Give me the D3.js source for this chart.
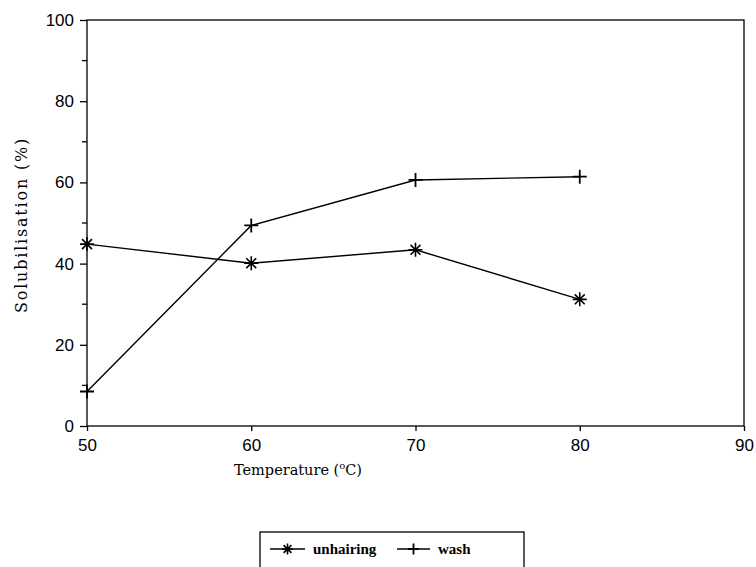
<!DOCTYPE html>
<html>
<head>
<meta charset="utf-8">
<script src="https://cdn.jsdelivr.net/npm/d3@7"></script>
<style>
  body { margin: 0; background: #fff; }
  .tick text { font-family: "Liberation Sans", Arial, sans-serif; }
</style>
</head>
<body>
<div id="chart"></div>
<script>
var temps = [50, 60, 70, 80]
var unhairing = [44.8, 40.1, 43.4, 31.2]
var wash = [8.5, 49.4, 60.6, 61.4]
var xTicks = [50, 60, 70, 80, 90]
var yTicks = [0, 20, 40, 60, 80, 100]

var width = 756
var height = 567
var margin = { left: 87, top: 20, right: 12, bottom: 141 }
var serif = '"DejaVu Serif", Georgia, serif'

var svg = d3.select('#chart').append('svg')
  .attr('width', width)
  .attr('height', height)

var x = d3.scaleLinear().domain([50, 90]).range([margin.left, width - margin.right])
var y = d3.scaleLinear().domain([0, 100]).range([height - margin.bottom, margin.top])

// frame
svg.append('rect')
  .attr('x', x(50)).attr('y', y(100))
  .attr('width', x(90) - x(50)).attr('height', y(0) - y(100))
  .attr('fill', 'none').attr('stroke', '#000').attr('stroke-width', 1.3)

// y axis, major + minor ticks
var yAxis = svg.append('g')
  .attr('transform', 'translate(' + x(50) + ',0)')
  .call(d3.axisLeft(y).tickValues(yTicks).tickSize(7).tickPadding(6))
yAxis.select('.domain').remove()
yAxis.selectAll('text').attr('font-size', 17).attr('fill', '#000')
yAxis.selectAll('line').attr('stroke-width', 1.3)
svg.append('g').selectAll('line')
  .data(d3.range(10, 100, 20))
  .enter().append('line')
  .attr('x1', x(50) - 5).attr('x2', x(50))
  .attr('y1', y).attr('y2', y)
  .attr('stroke', '#000').attr('stroke-width', 1.3)

// x axis
var xAxis = svg.append('g')
  .attr('transform', 'translate(0,' + y(0) + ')')
  .call(d3.axisBottom(x).tickValues(xTicks).tickSize(5).tickPadding(8))
xAxis.select('.domain').remove()
xAxis.selectAll('text').attr('font-size', 17).attr('fill', '#000')
xAxis.selectAll('line').attr('stroke-width', 1.3)

// axis titles
svg.append('text')
  .attr('transform', 'translate(27,225)rotate(-90)')
  .attr('text-anchor', 'middle')
  .attr('font-family', serif)
  .attr('font-size', 16)
  .attr('letter-spacing', 1.8)
  .text('Solubilisation (%)')

var xt = svg.append('text')
  .attr('x', 298).attr('y', 475)
  .attr('text-anchor', 'middle')
  .attr('font-family', serif)
  .attr('font-size', 14.5)
xt.append('tspan').text('Temperature (')
xt.append('tspan').attr('font-size', 10).attr('dy', -6).text('o')
xt.append('tspan').attr('dy', 6).text('C)')

var line = d3.line()
  .x(function(d) { return x(d[0]) })
  .y(function(d) { return y(d[1]) })

function starMarker(g, cx, cy, r) {
  r = r || 7
  var path = ''
  ;[0, 45, 90, 135].forEach(function(a) {
    var rad = a * Math.PI / 180
    var dx = r * Math.cos(rad)
    var dy = r * Math.sin(rad)
    path += 'M' + (cx - dx) + ',' + (cy - dy) + 'L' + (cx + dx) + ',' + (cy + dy)
  })
  g.append('path').attr('d', path).attr('stroke', '#000').attr('stroke-width', 1.6)
}

function plusMarker(g, cx, cy, r) {
  r = r || 7
  g.append('path')
    .attr('d', 'M' + (cx - r) + ',' + cy + 'L' + (cx + r) + ',' + cy +
      'M' + cx + ',' + (cy - r) + 'L' + cx + ',' + (cy + r))
    .attr('stroke', '#000').attr('stroke-width', 1.8)
}

function drawSeries(values, marker) {
  var pts = temps.map(function(t, i) { return [t, values[i]] })
  var g = svg.append('g')
  g.append('path')
    .attr('d', line(pts))
    .attr('fill', 'none').attr('stroke', '#000').attr('stroke-width', 1.4)
  pts.forEach(function(p) { marker(g, x(p[0]), y(p[1])) })
}

drawSeries(unhairing, starMarker)
drawSeries(wash, plusMarker)

// legend
var lg = svg.append('g')
lg.append('rect')
  .attr('x', 260).attr('y', 532).attr('width', 264).attr('height', 50)
  .attr('fill', 'none').attr('stroke', '#000').attr('stroke-width', 1.3)

var legendItems = [
  { name: 'unhairing', x0: 270, x1: 305, tx: 313, marker: starMarker },
  { name: 'wash', x0: 397, x1: 430, tx: 438, marker: plusMarker }
]
legendItems.forEach(function(d) {
  lg.append('line')
    .attr('x1', d.x0).attr('x2', d.x1)
    .attr('y1', 549).attr('y2', 549)
    .attr('stroke', '#000').attr('stroke-width', 1.4)
  d.marker(lg, (d.x0 + d.x1) / 2, 549, 5.5)
  lg.append('text')
    .attr('x', d.tx).attr('y', 554)
    .attr('font-family', '"Liberation Serif", "Times New Roman", serif')
    .attr('font-weight', 'bold')
    .attr('font-size', 15)
    .text(d.name)
})
</script>
</body>
</html>
